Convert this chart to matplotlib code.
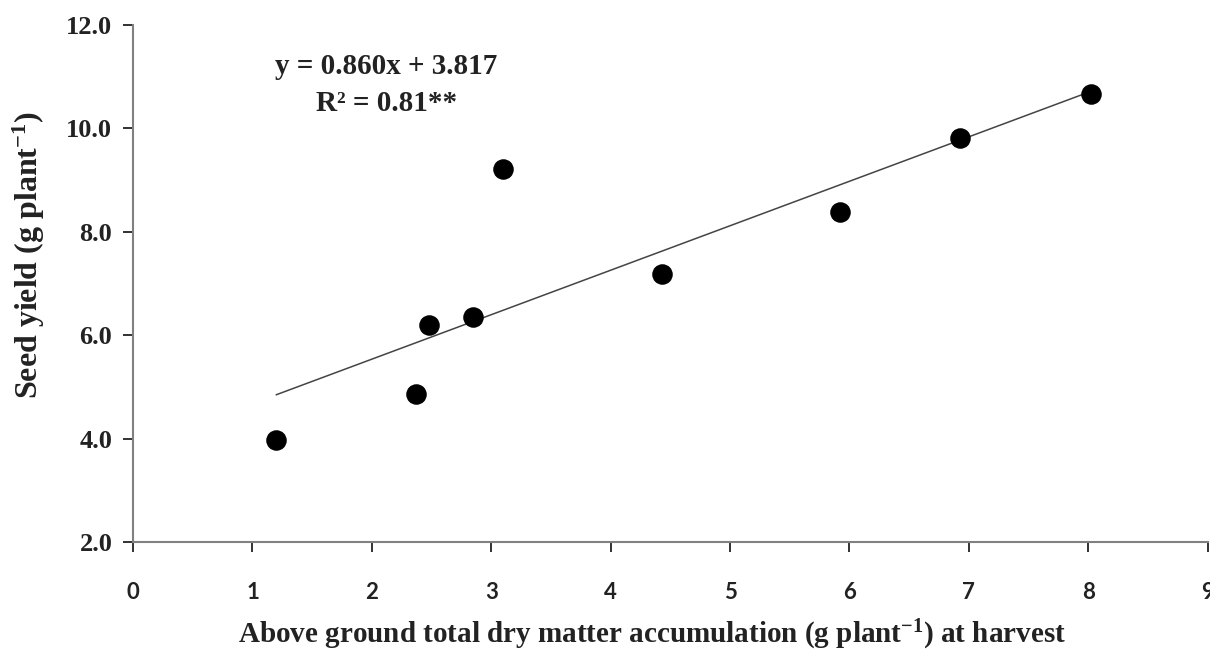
import matplotlib
matplotlib.use('Agg')
import numpy as np
import matplotlib.pyplot as plt

plt.rcParams['font.family'] = ['Liberation Serif', 'DejaVu Serif']
plt.rcParams['font.weight'] = 'bold'
plt.rcParams['mathtext.fontset'] = 'custom'
plt.rcParams['mathtext.rm'] = 'Liberation Serif:bold'
plt.rcParams['mathtext.it'] = 'Liberation Serif:bold'
plt.rcParams['mathtext.bf'] = 'Liberation Serif:bold'

# data
dry_matter = [1.20, 2.37, 2.48, 2.85, 3.10, 4.43, 5.92, 6.93, 8.02]
seed_yield = [3.97, 4.87, 6.20, 6.36, 9.22, 7.18, 8.38, 9.82, 10.67]
slope, intercept = 0.860, 3.817
x_ticks = [0, 1, 2, 3, 4, 5, 6, 7, 8, 9]
y_ticks = [2.0, 4.0, 6.0, 8.0, 10.0, 12.0]

fig = plt.figure(figsize=(12.1, 6.51), dpi=100)
ax = fig.add_axes([0.110, 0.1674, 0.888, 0.7942])

# trend line
xl = np.array([min(dry_matter), max(dry_matter)])
ax.plot(xl, slope * xl + intercept, color='#444444', lw=1.1, zorder=2)
ax.scatter(dry_matter, seed_yield, s=190, color='black', zorder=3)

ax.set_xlim(0, 9)
ax.set_ylim(2, 12)
ax.set_xticks(x_ticks)
ax.set_yticks(y_ticks)
ax.set_yticklabels([f'{v:.1f}' for v in y_ticks], fontsize=19, fontweight='bold')
ax.set_xticklabels([str(v) for v in x_ticks], fontsize=16, fontweight='bold',
                   family=['Lato', 'DejaVu Sans'])

for s in ['top', 'right']:
    ax.spines[s].set_visible(False)
for s in ['left', 'bottom']:
    ax.spines[s].set_color('#808080')
    ax.spines[s].set_linewidth(1.5)
ax.tick_params(axis='both', direction='out', length=7, width=1.3, color='#808080')
ax.tick_params(axis='x', pad=22, colors='#222222')
ax.tick_params(axis='y', pad=8, colors='#222222')

ax.set_ylabel('Seed yield (g plant$^{-1}$)', fontsize=23, fontweight='bold',
              color='#222222')
ax.yaxis.set_label_coords(-0.080, 0.555)
ax.set_xlabel('Above ground total dry matter accumulation (g plant$^{-1}$) at harvest',
              fontsize=21, fontweight='bold', color='#222222')
ax.xaxis.set_label_coords(0.483, -0.146)

ax.text(2.12, 11.19, 'y = 0.860x + 3.817', fontsize=21, fontweight='bold',
        ha='center', va='center', color='#222222')
ax.text(2.12, 10.49, 'R² = 0.81**', fontsize=21, fontweight='bold',
        ha='center', va='center', color='#222222')

fig.savefig('out.png', dpi=100)
